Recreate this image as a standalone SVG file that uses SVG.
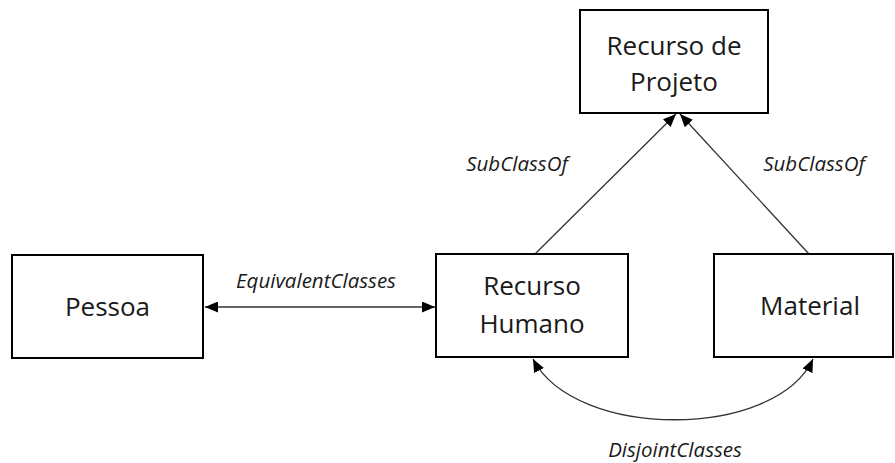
<svg xmlns="http://www.w3.org/2000/svg" width="895" height="463" viewBox="0 0 895 463">
  <style>
    .box { fill: #ffffff; stroke: #000000; stroke-width: 2; }
    .name { font-family: "Open Sans", "Liberation Sans", sans-serif; font-size: 26px; fill: #1a1a1a; text-anchor: middle; }
    .rel { font-family: "Open Sans", "Liberation Sans", sans-serif; font-size: 20.5px; font-style: italic; fill: #1a1a1a; text-anchor: middle; }
    .edge { fill: none; stroke: #333333; stroke-width: 1.3; }
  </style>
  <defs>
    <marker id="head" viewBox="0 0 13 11" refX="13" refY="5.5" markerWidth="13" markerHeight="11" markerUnits="userSpaceOnUse" orient="auto-start-reverse">
      <path d="M0,0 L13,5.5 L0,11 z" fill="#000000"/>
    </marker>
  </defs>
  <rect width="895" height="463" fill="#ffffff"/>

  <g id="connectors">
    <line class="edge" x1="205" y1="307" x2="435" y2="307" marker-start="url(#head)" marker-end="url(#head)"/>
    <line class="edge" x1="535" y1="254" x2="676" y2="114" marker-end="url(#head)"/>
    <line class="edge" x1="809" y1="254" x2="680" y2="114" marker-end="url(#head)"/>
    <path class="edge" d="M533,359 C575,440 775,440 813,359" marker-start="url(#head)" marker-end="url(#head)"/>
    <text class="rel" x="316" y="288">EquivalentClasses</text>
    <text class="rel" x="517" y="171">SubClassOf</text>
    <text class="rel" x="814" y="171">SubClassOf</text>
    <text class="rel" x="675" y="457">DisjointClasses</text>
  </g>

  <g id="recurso-de-projeto">
    <rect class="box" x="580" y="10" width="188" height="103"/>
    <text class="name" x="674" y="55">Recurso de</text>
    <text class="name" x="674" y="91">Projeto</text>
  </g>

  <g id="pessoa">
    <rect class="box" x="12" y="255" width="191" height="103"/>
    <text class="name" x="107.5" y="316">Pessoa</text>
  </g>

  <g id="recurso-humano">
    <rect class="box" x="436" y="254" width="192" height="103"/>
    <text class="name" x="532" y="295">Recurso</text>
    <text class="name" x="532" y="333">Humano</text>
  </g>

  <g id="material">
    <rect class="box" x="714" y="254" width="179" height="103"/>
    <text class="name" x="810" y="315">Material</text>
  </g>
</svg>
